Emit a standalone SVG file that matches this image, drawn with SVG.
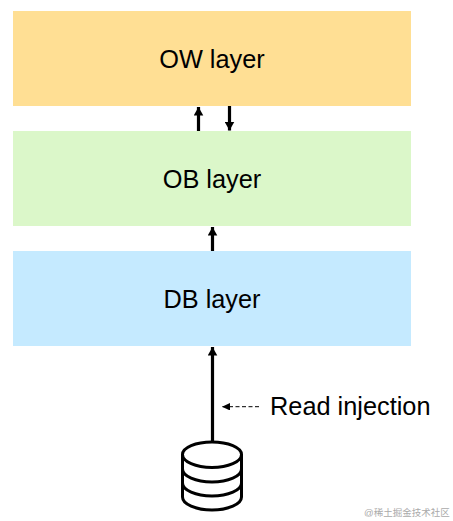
<svg xmlns="http://www.w3.org/2000/svg" width="453" height="521" viewBox="0 0 453 521">
<style>
text{font-family:"Liberation Sans",Arial,sans-serif;fill:#000;font-size:25.33px}
.l{text-anchor:middle}
.c{stroke:#000;stroke-width:3.2;fill:none}
.w{font-family:"Liberation Sans","Noto Sans CJK SC",sans-serif;font-size:9.5px;fill:#aaa}
</style>
<defs><marker id="a" markerUnits="userSpaceOnUse" markerWidth="10" markerHeight="10" refX="8.500" refY="5" orient="auto"><path d="M0 0.250L8.500 5L0 9.750z" fill="#000"/></marker>
<marker id="b" markerUnits="userSpaceOnUse" markerWidth="8" markerHeight="8" refX="8" refY="3.750" orient="auto"><path d="M0 0L8 3.750L0 7.500z" fill="#000"/></marker></defs>
<rect width="453" height="521" fill="#fff"/>
<g id="ow"><rect x="13" y="11" width="398" height="95" fill="#ffdf94"/><text class="l" x="212" y="68">OW layer</text></g>
<g id="ob"><rect x="13" y="131" width="398" height="95" fill="#dbf7c9"/><text class="l" x="212" y="188">OB layer</text></g>
<g id="db"><rect x="13" y="251" width="398" height="95" fill="#c5eaff"/><text class="l" x="212" y="308">DB layer</text></g>
<g id="connectors">
<path class="c" d="M198.500 131V107" marker-end="url(#a)"/>
<path class="c" d="M229.500 106V130.500" marker-end="url(#a)"/>
<path class="c" d="M212.500 251V227" marker-end="url(#a)"/>
<path class="c" d="M212.500 441V347" marker-end="url(#a)"/>
<path d="M259 406.700H222" stroke="#000" stroke-width="1" stroke-dasharray="4 2.500" fill="none" marker-end="url(#b)"/>
</g>
<g id="label"><text x="270" y="415">Read injection</text></g>
<g id="database" fill="#fff" stroke="#000" stroke-width="3">
<path d="M182.500 454.500A29.500 12.500 0 0 1 241.500 454.500V497A29.500 13 0 0 1 182.500 497z"/>
<path d="M182.500 454.500A29.500 13 0 0 0 241.500 454.500M182.500 469A29.500 13 0 0 0 241.500 469M182.500 483A29.500 13 0 0 0 241.500 483" fill="none"/>
</g>
<text class="w" x="364" y="516">@稀土掘金技术社区</text>
</svg>
